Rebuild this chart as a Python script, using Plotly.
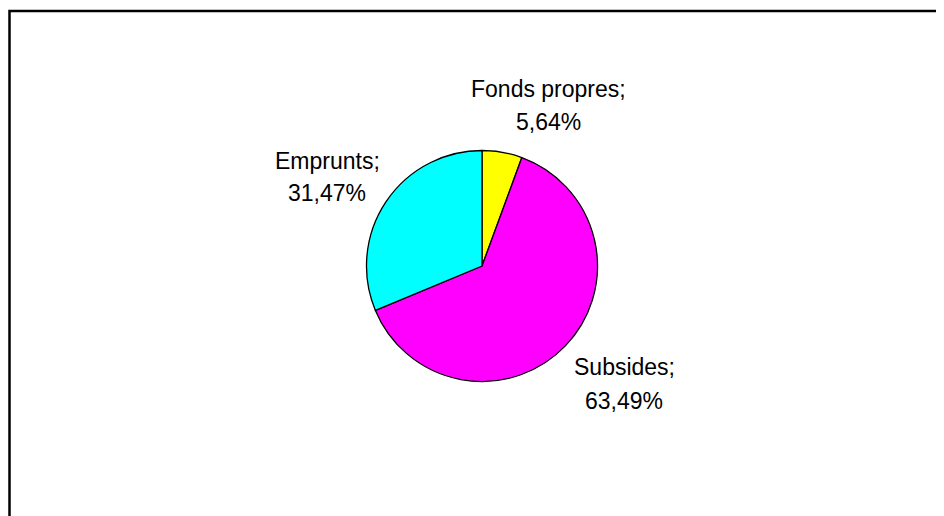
import plotly.graph_objects as go

labels = ["Fonds propres", "Subsides", "Emprunts"]
values = [5.64, 63.49, 31.47]
value_text = ["5,64%", "63,49%", "31,47%"]
colors = ["#FFFF00", "#FF00FF", "#00FFFF"]

W, H = 944, 516
OFF = 8  # page body margin in the browser

# label placement (pixel coords in the reference picture): centre x, baseline of line 1, baseline of line 2
label_pos = {
    "Fonds propres": (548, 96, 129),
    "Subsides": (624, 374, 408),
    "Emprunts": (327, 168, 200),
}

cx, cy, r = 482, 266, 115.5

fig = go.Figure(go.Pie(
    labels=labels,
    values=values,
    textinfo="none",
    sort=False,
    direction="clockwise",
    rotation=0,
    marker=dict(colors=colors, line=dict(color="black", width=1.3)),
    domain=dict(x=[(cx - r - OFF) / W, (cx + r - OFF) / W],
                y=[1 - (cy + r - OFF) / H, 1 - (cy - r - OFF) / H]),
    showlegend=False,
    hoverinfo="label+percent",
))

font = dict(family="Liberation Sans, Arial, sans-serif", size=23, color="black")
annotations = []
for lab, vt in zip(labels, value_text):
    x, b1, b2 = label_pos[lab]
    for txt, b in ((lab + ";", b1), (vt, b2)):
        annotations.append(dict(
            text=txt, xref="paper", yref="paper",
            x=(x - OFF) / W, y=1 - (b - 7 - OFF) / H,
            xanchor="center", yanchor="middle", showarrow=False, font=font,
        ))

fig.update_layout(
    width=W, height=H,
    margin=dict(l=0, r=0, t=0, b=0),
    paper_bgcolor="white",
    plot_bgcolor="white",
    annotations=annotations,
    shapes=[dict(type="rect", xref="paper", yref="paper",
                 x0=(9.5 - OFF) / W, x1=1.05, y0=-0.05, y1=1 - (11 - OFF) / H,
                 line=dict(color="black", width=2.5), fillcolor="rgba(0,0,0,0)")],
)

fig.write_html("out.html")
